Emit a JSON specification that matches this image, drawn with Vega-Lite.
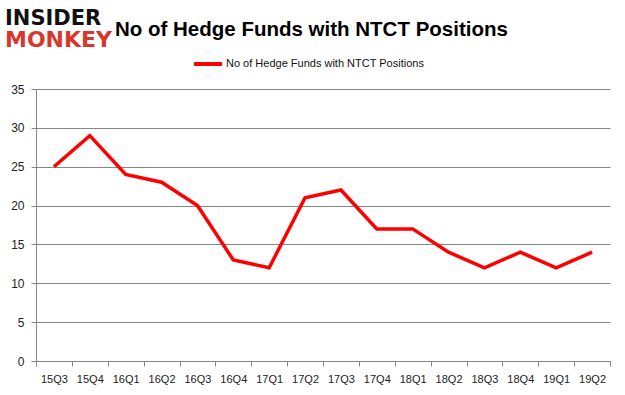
{
  "$schema": "https://vega.github.io/schema/vega-lite/v6.json",
  "background": "white",
  "padding": {"left": 5, "top": 7, "right": 12, "bottom": 4},
  "title": {
    "text": "INSIDER",
    "subtitle": "MONKEY",
    "anchor": "start",
    "frame": "bounds",
    "font": "DejaVu Sans",
    "fontSize": 21,
    "fontWeight": "bold",
    "color": "#111111",
    "subtitleFont": "DejaVu Sans",
    "subtitleFontSize": 22,
    "subtitleFontWeight": "bold",
    "subtitleColor": "#d8382c",
    "subtitlePadding": 1,
    "offset": -31
  },
  "data": {
    "values": [
      {"q": "15Q3", "n": 25}, {"q": "15Q4", "n": 29}, {"q": "16Q1", "n": 24}, {"q": "16Q2", "n": 23},
      {"q": "16Q3", "n": 20}, {"q": "16Q4", "n": 13}, {"q": "17Q1", "n": 12}, {"q": "17Q2", "n": 21},
      {"q": "17Q3", "n": 22}, {"q": "17Q4", "n": 17}, {"q": "18Q1", "n": 17}, {"q": "18Q2", "n": 14},
      {"q": "18Q3", "n": 12}, {"q": "18Q4", "n": 14}, {"q": "19Q1", "n": 12}, {"q": "19Q2", "n": 14}
    ]
  },
  "vconcat": [
    {
      "width": 574,
      "height": 272,
      "title": {
        "text": "No of Hedge Funds with NTCT Positions",
        "anchor": "start",
        "frame": "group",
        "font": "Liberation Sans",
        "fontSize": 20.5,
        "fontWeight": "bold",
        "color": "#000000",
        "dx": 79,
        "offset": 43
      },
      "mark": {"type": "line", "color": "#ff0000", "strokeWidth": 3.5},
      "encoding": {
        "x": {
          "field": "q", "type": "ordinal", "sort": null,
          "scale": {"type": "band", "paddingInner": 0, "paddingOuter": 0},
          "bandPosition": 0.5,
          "axis": {
            "title": null, "labelAngle": 0, "tickBand": "extent", "grid": false,
            "domainColor": "#868686", "tickColor": "#868686", "tickSize": 5,
            "labelFont": "Liberation Sans", "labelFontSize": 11, "labelColor": "#222222",
            "labelPadding": 7
          }
        },
        "y": {
          "field": "n", "type": "quantitative",
          "scale": {"domain": [0, 35]},
          "axis": {
            "title": null, "values": [0, 5, 10, 15, 20, 25, 30, 35],
            "gridColor": "#868686", "domainColor": "#868686", "tickColor": "#868686", "tickSize": 5,
            "labelFont": "Liberation Sans", "labelFontSize": 12, "labelColor": "#222222",
            "labelPadding": 7, "minExtent": 31
          }
        },
        "color": {
          "datum": "No of Hedge Funds with NTCT Positions",
          "type": "nominal",
          "scale": {"range": ["#ff0000"]},
          "legend": {
            "title": null, "orient": "none", "legendX": 156, "legendY": -41,
            "symbolType": "stroke", "symbolStrokeWidth": 4, "labelLimit": 0,
            "symbolSize": 784, "labelOffset": 2, "labelFont": "Liberation Sans", "labelFontSize": 11,
            "labelColor": "#111111"
          }
        }
      }
    }
  ],
  "config": {"view": {"stroke": null}}
}
